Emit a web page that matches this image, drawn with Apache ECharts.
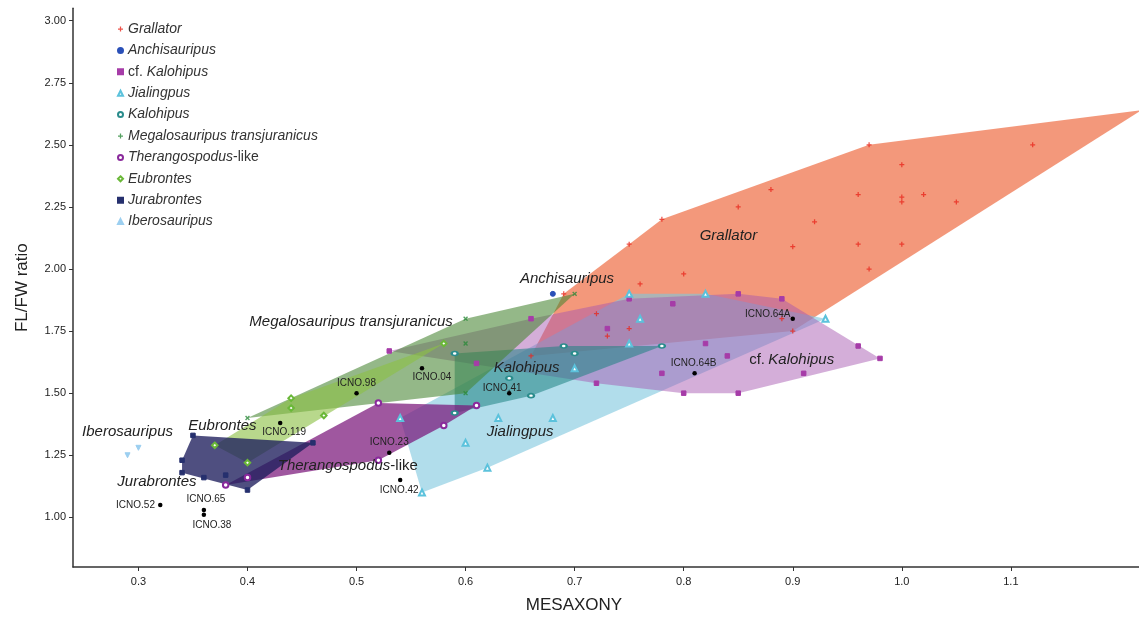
<!DOCTYPE html>
<html>
<head>
<meta charset="utf-8">
<script src="https://cdn.jsdelivr.net/npm/echarts@6/dist/echarts.min.js"></script>
<style>
  html, body { margin: 0; padding: 0; background: #fff; }
  #chart { width: 1139px; height: 619px; }
</style>
</head>
<body>
<div id="chart"></div>
<script>
// tick values
const xTicks = [0.3, 0.4, 0.5, 0.6, 0.7, 0.8, 0.9, 1.0, 1.1];
const yTicks = [1.0, 1.25, 1.5, 1.75, 2.0, 2.25, 2.5, 2.75, 3.0];

// measurements [mesaxony, FL/FW]
const grallator = [[0.97,2.50],[1.12,2.50],[1.00,2.42],[0.88,2.32],[0.96,2.30],[1.00,2.29],[1.02,2.30],
  [1.00,2.27],[1.05,2.27],[0.85,2.25],[0.78,2.20],[0.92,2.19],[0.90,2.09],[0.96,2.10],[1.00,2.10],
  [0.97,2.00],[0.80,1.98],[0.76,1.94],[0.89,1.80],[0.90,1.75],[0.75,2.10],[0.69,1.90],[0.72,1.82],
  [0.75,1.76],[0.73,1.73],[0.66,1.65],[1.22,2.64]];
const anchisauripus = [[0.68,1.90]];
const cfKalohipus = [[0.75,1.88],[0.79,1.86],[0.66,1.80],[0.73,1.76],[0.72,1.54],[0.78,1.58],[0.80,1.50],
  [0.85,1.90],[0.89,1.88],[0.82,1.70],[0.84,1.65],[0.96,1.69],[0.98,1.64],[0.91,1.58],[0.85,1.50],
  [0.53,1.67],[0.61,1.62]];
const jialingpus = [[0.54,1.40],[0.63,1.40],[0.68,1.40],[0.60,1.30],[0.62,1.20],[0.56,1.10],[0.75,1.90],
  [0.76,1.80],[0.75,1.70],[0.70,1.60],[0.82,1.90],[0.93,1.80]];
const kalohipus = [[0.59,1.66],[0.69,1.69],[0.70,1.66],[0.78,1.69],[0.64,1.56],[0.66,1.49],[0.59,1.42]];
const megalosauripus = [[0.60,1.80],[0.60,1.70],[0.70,1.90],[0.60,1.50],[0.40,1.40]];
const therangospodus = [[0.52,1.46],[0.61,1.45],[0.58,1.37],[0.52,1.23],[0.38,1.13],[0.40,1.16]];
const eubrontes = [[0.44,1.48],[0.44,1.44],[0.47,1.41],[0.37,1.29],[0.40,1.22],[0.58,1.70]];
const jurabrontes = [[0.35,1.33],[0.34,1.23],[0.34,1.18],[0.36,1.16],[0.40,1.11],[0.46,1.30],[0.38,1.17]];
const iberosauripus = [[0.30,1.28],[0.29,1.25]];

// single specimens
const icnoNames = ['ICNO.52','ICNO.65','ICNO.38','ICNO.119','ICNO.98','ICNO.04','ICNO.41','ICNO.23','ICNO.42','ICNO.64A','ICNO.64B'];
const icnoX = [0.32, 0.36, 0.36, 0.43, 0.50, 0.56, 0.64, 0.53, 0.54, 0.90, 0.81];
const icnoY = [1.05, 1.03, 1.01, 1.38, 1.50, 1.60, 1.50, 1.26, 1.15, 1.80, 1.58];

// group name labels
const groupLabelText = ['Grallator','Anchisauripus','Megalosauripus transjuranicus','Kalohipus','cf. Kalohipus',
  'Jialingpus','Iberosauripus','Eubrontes','Therangospodus-like','Jurabrontes'];
const groupLabelX = [0.841, 0.693, 0.495, 0.656, 0.899, 0.650, 0.290, 0.377, 0.492, 0.317];
const groupLabelY = [2.133, 1.961, 1.788, 1.603, 1.635, 1.346, 1.346, 1.370, 1.209, 1.145];

const FONT = '"Liberation Sans", Arial, sans-serif';
const plusPath = 'path://M3,0h2v3h3v2h-3v3h-2v-3h-3v-2h3z';

// where each ICNO label goes
const icnoLabelPos = {
  'ICNO.52': ['left', [0, 0]], 'ICNO.65': ['top', [2, 0]], 'ICNO.38': ['bottom', [8, 0]],
  'ICNO.119': ['bottom', [4, -1]], 'ICNO.98': ['top', [0, 0]], 'ICNO.04': ['bottom', [10, -1]],
  'ICNO.41': ['top', [-7, 5]], 'ICNO.23': ['top', [0, 0]], 'ICNO.42': ['bottom', [-1, 0]],
  'ICNO.64A': ['left', [3, -4]], 'ICNO.64B': ['top', [-1, 0]]
};

function convexHull(pts) {
  const p = pts.slice().sort(function (a, b) { return a[0] - b[0] || a[1] - b[1]; });
  const cross = function (o, a, b) { return (a[0]-o[0])*(b[1]-o[1]) - (a[1]-o[1])*(b[0]-o[0]); };
  const lower = [], upper = [];
  p.forEach(function (q) {
    while (lower.length >= 2 && cross(lower[lower.length-2], lower[lower.length-1], q) <= 0) lower.pop();
    lower.push(q);
  });
  for (let i = p.length - 1; i >= 0; i--) {
    const q = p[i];
    while (upper.length >= 2 && cross(upper[upper.length-2], upper[upper.length-1], q) <= 0) upper.pop();
    upper.push(q);
  }
  upper.pop(); lower.pop();
  return lower.concat(upper);
}

function hull(name, pts, fill) {
  return {
    type: 'custom', name: name + ' hull', silent: true, z: 1,
    data: [pts[0]],
    renderItem: function (params, api) {
      const px = pts.map(function (d) { return api.coord(d); });
      return { type: 'polygon', shape: { points: convexHull(px) }, style: { fill: fill } };
    }
  };
}

function points(name, pts, symbol, color, size, extra) {
  return Object.assign({
    type: 'scatter', name: name, data: pts, symbol: symbol, symbolSize: size, z: 3,
    itemStyle: { color: color, borderColor: color, borderWidth: 1, opacity: 1 }
  }, extra || {});
}

const legendNames = ['Grallator','Anchisauripus','cf. Kalohipus','Jialingpus','Kalohipus',
  'Megalosauripus transjuranicus','Therangospodus-like','Eubrontes','Jurabrontes','Iberosauripus'];

function richName(name) {
  if (name === 'cf. Kalohipus') return '{n|cf.} {i|Kalohipus}';
  if (name === 'Therangospodus-like') return '{i|Therangospodus}{n|-like}';
  return '{i|' + name + '}';
}

const chart = echarts.init(document.getElementById('chart'));
chart.setOption({
  backgroundColor: '#fff',
  animation: false,
  grid: { left: 73, right: 0, top: 8.3, bottom: 50.7 },
  legend: {
    data: legendNames, orient: 'vertical', left: 112, top: 16,
    itemWidth: 5, itemHeight: 5, itemGap: 5.4, selectedMode: false,
    formatter: richName,
    textStyle: {
      fontFamily: FONT, fontSize: 14, color: '#333', lineHeight: 16,
      rich: {
        i: { fontFamily: FONT, fontSize: 14, fontStyle: 'italic', color: '#333', lineHeight: 16 },
        n: { fontFamily: FONT, fontSize: 14, color: '#333', lineHeight: 16 }
      }
    }
  },
  xAxis: {
    type: 'value', min: 0.24, max: 1.2175,
    name: 'MESAXONY', nameLocation: 'middle', nameGap: 30,
    nameTextStyle: { fontFamily: FONT, fontSize: 17, color: '#222', padding: [0, 64, 0, 0] },
    axisLine: { show: true, lineStyle: { color: '#333', width: 1.5 } },
    axisTick: { show: true, length: 4, customValues: xTicks, lineStyle: { color: '#333' } },
    axisLabel: { customValues: xTicks, margin: 9, fontFamily: '"Liberation Sans Narrow", ' + FONT, fontSize: 11, color: '#222',
      formatter: function (v) { return v.toFixed(1); } },
    splitLine: { show: false }
  },
  yAxis: {
    type: 'value', min: 0.8, max: 3.05,
    name: 'FL/FW ratio', nameLocation: 'middle', nameGap: 42,
    nameTextStyle: { fontFamily: FONT, fontSize: 17, color: '#222' },
    axisLine: { show: true, lineStyle: { color: '#333', width: 1.5 } },
    axisTick: { show: true, length: 4, customValues: yTicks, lineStyle: { color: '#333' } },
    axisLabel: { customValues: yTicks, margin: 7, fontFamily: FONT, fontSize: 11, color: '#222',
      formatter: function (v) { return v.toFixed(2); } },
    splitLine: { show: false }
  },
  series: [
    hull('Grallator', grallator, 'rgba(238,112,72,0.72)'),
    hull('Jialingpus', jialingpus, 'rgba(125,198,222,0.6)'),
    hull('cf. Kalohipus', cfKalohipus, 'rgba(165,85,175,0.48)'),
    hull('Kalohipus', kalohipus, 'rgba(30,130,130,0.55)'),
    hull('Megalosauripus transjuranicus', megalosauripus, 'rgba(70,132,50,0.58)'),
    hull('Eubrontes', eubrontes, 'rgba(140,192,70,0.62)'),
    hull('Therangospodus-like', therangospodus, 'rgba(122,22,122,0.72)'),
    hull('Jurabrontes', jurabrontes, 'rgba(30,30,92,0.78)'),

    points('Grallator', grallator, plusPath, '#e8281e', 5, { itemStyle: { color: '#e8281e', borderWidth: 0 } }),
    points('Anchisauripus', anchisauripus, 'circle', '#2a50b8', 5),
    points('cf. Kalohipus', cfKalohipus, 'rect', '#a63ca8', 4.5),
    points('Jialingpus', jialingpus, 'emptyTriangle', '#5cc2dc', 6),
    points('Kalohipus', kalohipus, 'emptyCircle', '#2a8c8c', [6, 4]),
    points('Megalosauripus transjuranicus', megalosauripus, plusPath, '#2a8a3a', 5.5,
      { symbolRotate: 45, itemStyle: { color: '#2a8a3a', borderWidth: 0 } }),
    points('Therangospodus-like', therangospodus, 'emptyCircle', '#8a2a9c', 5.5),
    points('Eubrontes', eubrontes, 'emptyDiamond', '#6ab838', 5.5),
    points('Jurabrontes', jurabrontes, 'rect', '#26306e', 4.5),
    points('Iberosauripus', iberosauripus, 'triangle', '#9ccff0', 5, { symbolRotate: 180 }),

    {
      type: 'scatter', name: 'ICNO', z: 4, symbol: 'circle', symbolSize: 4.5,
      itemStyle: { color: '#000', opacity: 1 },
      data: icnoNames.map(function (n, i) {
        return {
          name: n, value: [icnoX[i], icnoY[i]],
          label: { position: icnoLabelPos[n][0], offset: icnoLabelPos[n][1] }
        };
      }),
      label: { show: true, formatter: '{b}', distance: 3, fontFamily: FONT, fontSize: 10, color: '#222' }
    },
    {
      type: 'scatter', name: 'labels', z: 5, symbolSize: 0, silent: true,
      itemStyle: { opacity: 1 },
      data: groupLabelText.map(function (t, i) { return { name: t, value: [groupLabelX[i], groupLabelY[i]] }; }),
      label: {
        show: true, position: 'inside',
        formatter: function (p) { return richName(p.name); },
        rich: {
          i: { fontFamily: FONT, fontSize: 15, fontStyle: 'italic', color: '#222' },
          n: { fontFamily: FONT, fontSize: 15, color: '#222' }
        }
      }
    }
  ]
});
</script>
</body>
</html>
